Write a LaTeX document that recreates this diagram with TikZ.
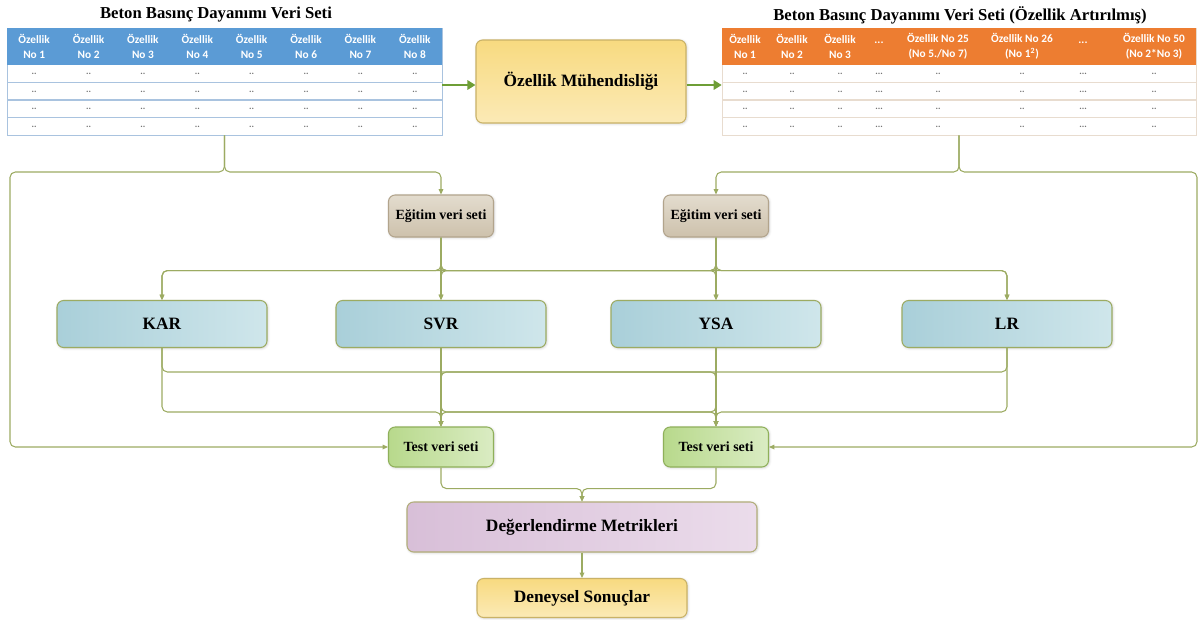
\documentclass[tikz,border=0pt]{standalone}
\usepackage{fontspec}
\setmainfont{Liberation Serif}
\newfontfamily\hdrfont{Carlito}
\usetikzlibrary{arrows.meta,positioning,shadows.blur}
\definecolor{conn}{HTML}{9CAB62}
\definecolor{thickarr}{HTML}{6E9E36}
\definecolor{tabBlue}{HTML}{5B9BD5}
\definecolor{tabOrange}{HTML}{ED7D31}
\definecolor{rowBlue}{HTML}{A9C3DF}
\definecolor{rowOrange}{HTML}{E8DCCF}
\definecolor{modelA}{HTML}{A9CFD9}
\definecolor{modelB}{HTML}{CFE6EB}
\definecolor{eduA}{HTML}{E3DCCE}
\definecolor{eduB}{HTML}{CDC1AC}
\definecolor{eduLine}{HTML}{B2A48C}
\definecolor{testA}{HTML}{B8D98C}
\definecolor{testB}{HTML}{DAECC3}
\definecolor{testLine}{HTML}{8FB05A}
\definecolor{metA}{HTML}{D8BFD8}
\definecolor{metB}{HTML}{EBDCEB}
\definecolor{yelA}{HTML}{F8DA80}
\definecolor{yelB}{HTML}{FBEAB6}
\definecolor{yelLine}{HTML}{C9B267}
\newcommand{\threedots}{...}
\newcommand{\twodots}{..}

\begin{document}
\begin{tikzpicture}[
  x=0.75pt, y=-0.75pt,
  title/.style={font=\fontsize{12.5}{14}\selectfont\bfseries},
  hdr/.style={font=\hdrfont\fontsize{8.5}{11}\selectfont\bfseries, text=white, align=center, inner sep=0},
  cell/.style={font=\hdrfont\fontsize{7}{7}\selectfont\bfseries, text=gray!90!black, inner sep=0},
  box/.style={rectangle, draw, rounded corners=5pt, align=center, line width=0.8pt,
    font=\fontsize{13}{15}\selectfont\bfseries,
    blur shadow={shadow blur steps=4, shadow xshift=0.6pt, shadow yshift=-0.6pt, shadow opacity=20}},
  small/.style={box, minimum width=78.75pt, minimum height=31.5pt, font=\fontsize{10.5}{12}\selectfont\bfseries},
  model/.style={box, minimum width=157.5pt, minimum height=35.25pt, draw=conn, left color=modelA, right color=modelB},
  edu/.style={small, draw=eduLine, top color=eduA, bottom color=eduB},
  testset/.style={small, minimum height=30pt, draw=testLine, left color=testA, right color=testB},
  yel/.style={box, draw=yelLine, top color=yelA, bottom color=yelB},
  arr/.style={-{Triangle[length=4pt,width=3.5pt]}, conn, line width=0.8pt, rounded corners=4pt},
  bigarr/.style={-{Triangle[length=6pt,width=7pt]}, line width=2.2pt, thickarr}
]
  \useasboundingbox (0,0) rectangle (1200,619);

  % input table
  \node[title] (titL) at (216,15) {Beton Basınç Dayanımı Veri Seti};
  \node[draw=rowBlue, fill=white, minimum width=326.25pt, minimum height=80.25pt, inner sep=0] (tabL) at (224.5,81.5) {};
  \fill[tabBlue] (7,28) rectangle (442,65);
  \foreach \y in {82.5,100,117.5}
    \draw[rowBlue, line width=1.2pt] (7,\y) -- (442,\y);
  \foreach \i in {1,...,8} {
    \node[hdr] (hL\i) at ({7+54.375*(\i-0.5)},46.5) {Özellik\\No \i};
    \foreach \r/\y in {1/74,2/91.5,3/109,4/126.5}
      \node[cell] (cL\i\r) at ({7+54.375*(\i-0.5)},\y) {\twodots};
  }

  % feature engineering
  \node[yel, minimum width=157.5pt, minimum height=62.25pt] (feat) at (581,81.5) {Özellik Mühendisliği};

  % augmented table
  \node[title] (titR) at (960,15) {Beton Basınç Dayanımı Veri Seti (Özellik Artırılmış)};
  \node[draw=rowOrange, fill=white, minimum width=355.5pt, minimum height=80.25pt, inner sep=0] (tabR) at (959,81.5) {};
  \fill[tabOrange] (722,28) rectangle (1196,65);
  \foreach \y in {82.5,100,117.5}
    \draw[rowOrange, line width=1.2pt] (722,\y) -- (1196,\y);
  \foreach \x/\t/\c [count=\i] in {745/{Özellik\\No 1}/\twodots, 792/{Özellik\\No 2}/\twodots, 840/{Özellik\\No 3}/\twodots,
      879/{\vphantom{Ö}\threedots\\\vphantom{No}}/\threedots, 938/{Özellik No 25\\(No 5./No 7)}/\twodots, 1022/{Özellik No 26\\(No 1\textsuperscript{2})}/\twodots,
      1083/{\vphantom{Ö}\threedots\\\vphantom{No}}/\threedots, 1154/{Özellik No 50\\(No 2*No 3)}/\twodots} {
    \node[hdr] (hR\i) at (\x,46.5) {\t};
    \foreach \r/\y in {1/74,2/91.5,3/109,4/126.5}
      \node[cell] (cR\i\r) at (\x,\y) {\c};
  }

  \draw[bigarr] (tabL.east |- 0,85) -- (feat.west |- 0,85);
  \draw[bigarr] (feat.east |- 0,85) -- (tabR.west |- 0,85);

  % training sets
  \node[edu] (eduL) at (441,216) {Eğitim veri seti};
  \node[edu] (eduR) at (716,216) {Eğitim veri seti};

  % models
  \node[model] (kar) at (162,324) {KAR};
  \node[model] (svr) at (441,324) {SVR};
  \node[model] (ysa) at (716,324) {YSA};
  \node[model] (lr) at (1007,324) {LR};

  % test sets
  \node[testset] (testL) at (441,447) {Test veri seti};
  \node[testset] (testR) at (716,447) {Test veri seti};

  % evaluation and results
  \node[box, draw=olive!45!gray!70, left color=metA, right color=metB,
    minimum width=262.5pt, minimum height=37.5pt] (metric) at (582,527) {Değerlendirme Metrikleri};
  \node[yel, minimum width=157.5pt, minimum height=29.25pt] (result) at (582,598) {Deneysel Sonuçlar};

  % splits of the tables
  \coordinate (spL) at (224.5,172);
  \coordinate (railL) at (10,172);
  \coordinate (spR) at (959,172);
  \coordinate (railR) at (1197,172);
  \draw[arr] (tabL.south) -- (spL) -| (eduL.north);
  \draw[arr] (tabL.south) |- (railL) |- (testL.west);
  \draw[arr] (tabR.south) -- (spR) -| (eduR.north);
  \draw[arr] (tabR.south) |- (railR) |- (testR.east);

  % training sets to models
  \foreach \s in {eduL,eduR}
    \foreach \m in {kar,svr,ysa,lr}
      \draw[arr] (\s.south) -- ++(0,33) -| (\m.north);

  % models to test sets
  \foreach \m/\t/\y in {kar/testL/412, kar/testR/372, svr/testL/412, svr/testR/412,
      ysa/testL/412, ysa/testR/412, lr/testL/372, lr/testR/412}
    \draw[arr] (\m.south) -- (\m.south |- 0,\y) -| (\t.north);

  % test sets to metrics
  \foreach \t in {testL,testR}
    \draw[arr] (\t.south) -- ++(0,21) -| (metric.north);
  \draw[arr] (metric) -- (result);
\end{tikzpicture}
\end{document}
